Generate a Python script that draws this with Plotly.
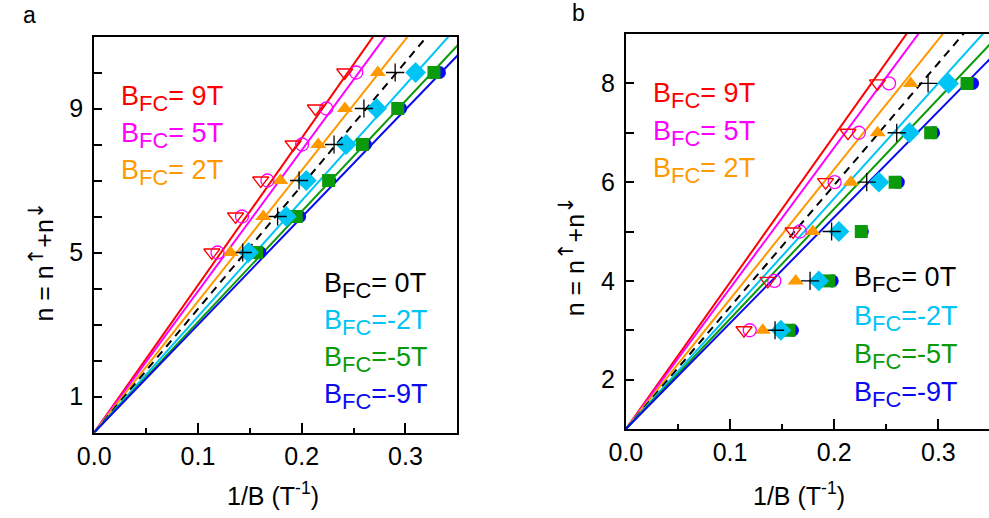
import plotly.graph_objects as go

W, H = 989, 518

# Landau-level index n and inverse field 1/B (T^-1) for each field-cooling field
labels = ["B<sub><span style='font-size:22px'>FC</span></sub>= 9T",
          "B<sub><span style='font-size:22px'>FC</span></sub>= 5T",
          "B<sub><span style='font-size:22px'>FC</span></sub>= 2T",
          "B<sub><span style='font-size:22px'>FC</span></sub>= 0T",
          "B<sub><span style='font-size:22px'>FC</span></sub>=-2T",
          "B<sub><span style='font-size:22px'>FC</span></sub>=-5T",
          "B<sub><span style='font-size:22px'>FC</span></sub>=-9T"]
n_a = [5, 6, 7, 8, 9, 10]
n_b = [3, 4, 5, 6, 7, 8]
yticks_a = [1, 5, 9]
yticks_b = [2, 4, 6, 8]

inv_b_p9 = [0.1134, 0.1363, 0.1605, 0.1917, 0.2132, 0.2415]
inv_b_p5 = [0.1189, 0.1425, 0.1670, 0.2004, 0.2237, 0.2526]
inv_b_p2 = [0.1314, 0.1630, 0.1794, 0.2160, 0.2417, 0.2734]
inv_b_0 = [0.1432, 0.1768, 0.1975, 0.2312, 0.2600, 0.2901]
inv_b_m2 = [0.1488, 0.1852, 0.2045, 0.2429, 0.2722, 0.3098]
inv_b_m5 = [0.1566, 0.1948, 0.2260, 0.2585, 0.2926, 0.3275]
inv_b_m9 = [0.1599, 0.1981, 0.2270, 0.2615, 0.2954, 0.3328]

# slopes dn/d(1/B) of the guide lines
slope_a = [40.9, 39.2, 36.4, 34.3, 32.2, 30.7, 29.9]
slope_b = [29.7, 28.5, 26.3, 24.7, 23.35, 22.3, 21.45]
n0_a = 0
n0_b = 1

series_x = [inv_b_p9, inv_b_p5, inv_b_p2, inv_b_0, inv_b_m2, inv_b_m5, inv_b_m9]
colors = ["#ff0000", "#ff00ff", "#ff9900", "#000000", "#00c4f4", "#0a9a0a", "#0a0af0"]
symbols = ["triangle-down-open", "circle-open", "triangle-up", "cross-thin",
           "diamond", "square", "circle"]
sizes = [14, 13, 14, 13, 16, 13, 13]

FONT = "Liberation Sans, Arial, Helvetica, sans-serif"

fig = go.Figure()


def add_panel(xa, ya, ns, slopes, n0, xmax):
    # guide lines first
    for i in range(7):
        fig.add_trace(go.Scatter(
            x=[0, xmax], y=[n0, n0 + slopes[i] * xmax], mode="lines",
            line=dict(color=colors[i], width=2,
                      dash="8px,6px" if i == 3 else "solid"),
            xaxis=xa, yaxis=ya, showlegend=False, hoverinfo="skip"))
    # markers, blue first so the green squares sit on top
    for i in [6, 5, 4, 3, 2, 1, 0]:
        open_sym = symbols[i].endswith("open") or symbols[i] == "cross-thin"
        fig.add_trace(go.Scatter(
            x=series_x[i], y=ns, mode="markers",
            marker=dict(symbol=symbols[i], size=sizes[i], color=colors[i],
                        line=dict(color=colors[i], width=1.3 if open_sym else 0)),
            xaxis=xa, yaxis=ya, showlegend=False))


add_panel("x", "y", n_a, slope_a, n0_a, 0.4)
add_panel("x2", "y2", n_b, slope_b, n0_b, 0.4)


def px(x):
    return x / W


def py(y):
    return 1 - y / H


axis_common = dict(showgrid=False, zeroline=False, showline=True, linecolor="black",
                   linewidth=2, ticks="inside", tickcolor="black", tickwidth=1.5,
                   tickfont=dict(family=FONT, size=25, color="black"))

xa_a_right = 448
xa_b_left = 619.5
minor_x = dict(dtick=0.05, tick0=0, ticklen=5, ticks="inside",
               tickcolor="black", tickwidth=1.5)
minor_y = dict(dtick=1, tick0=0, ticklen=8, ticks="inside",
               tickcolor="black", tickwidth=1.5)
fig.update_layout(
    width=W, height=H, margin=dict(l=0, r=0, t=0, b=0),
    paper_bgcolor="white", plot_bgcolor="white", showlegend=False,
    xaxis=dict(domain=[px(78.5), px(xa_a_right)], range=[0, 0.35], tick0=0, dtick=0.1,
               tickformat=".1f", ticklen=10, mirror=True, anchor="y",
               minor=minor_x, **axis_common),
    yaxis=dict(domain=[py(432.5), py(36.5)], range=[0, 11],
               tickvals=yticks_a, ticklen=8, mirror=True, anchor="x",
               ticklabelstandoff=4, minor=minor_y, **axis_common),
    xaxis2=dict(domain=[px(xa_b_left), 1.0], range=[0, (W - xa_b_left) / 1060],
                tick0=0, dtick=0.1, tickformat=".1f", ticklen=10, mirror=True,
                anchor="y2", minor=minor_x, **axis_common),
    yaxis2=dict(domain=[py(429), py(34)], range=[1, 9],
                tickvals=yticks_b, ticklen=8, mirror=False, anchor="x2",
                ticklabelstandoff=4, minor=minor_y, **axis_common),
)

ann = []
# panel letters
ann.append(dict(text="a", x=px(13), y=py(15), font=dict(size=23)))
ann.append(dict(text="b", x=px(571), y=py(13), font=dict(size=23)))
# axis titles
xt = "1/B (T<sup>-1</sup>)"
ann.append(dict(text=xt, x=px(260), y=py(494), font=dict(size=25)))
ann.append(dict(text=xt, x=px(796), y=py(494), font=dict(size=25)))
arrow = "<sup><span style='font-family:DejaVu Sans;font-size:21px'>%s</span></sup>"
yt = "n = n" + arrow % "↑" + "+n" + arrow % "↓"
ann.append(dict(text=yt, x=px(24), y=py(262), textangle=-90, font=dict(size=25)))
ann.append(dict(text=yt, x=px(564), y=py(256), textangle=-90, font=dict(size=25)))

# field labels
label_pos = [
    (104, [99, 136, 172], 310, [285, 322, 359, 396]),
    (645, [96, 133, 170], 850, [279, 318, 356, 394]),
]
for xl, ys_up, xr, ys_lo in label_pos:
    for k in range(3):
        ann.append(dict(text=labels[k], x=px(xl), y=py(ys_up[k]), xanchor="left",
                        font=dict(size=27, color=colors[k])))
    for k in range(4):
        ann.append(dict(text=labels[3 + k], x=px(xr), y=py(ys_lo[k]), xanchor="left",
                        font=dict(size=27, color=colors[3 + k])))

for a in ann:
    a.setdefault("xanchor", "center")
    a.update(xref="paper", yref="paper", showarrow=False, yanchor="middle")
    a["font"] = dict(family=FONT, color=a["font"].get("color", "black"),
                     size=a["font"]["size"])
fig.update_layout(annotations=ann)

fig.write_html("out.html")
